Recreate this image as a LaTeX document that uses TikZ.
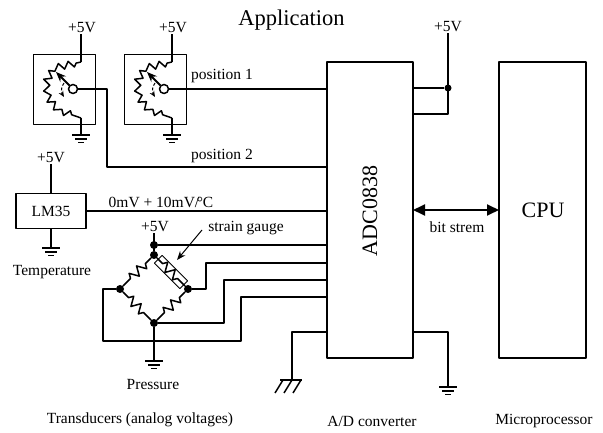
\documentclass[tikz,border=0pt]{standalone}
\usepackage{fontspec}
\setmainfont{Liberation Serif}
\usetikzlibrary{arrows.meta,decorations.pathmorphing,positioning}
\tikzset{sheet/.style={x=1pt,y=-1pt,line join=round,font=\fontsize{15.5}{18}\selectfont}}
\tikzset{wire/.style={black,line width=1.5pt},
         thinbox/.style={draw,line width=0.9pt,inner sep=0pt,outer sep=0pt},
         chip/.style={draw,line width=1.5pt,inner sep=0pt,outer sep=0pt},
         txt/.style={inner sep=1pt},
         bigtxt/.style={inner sep=1pt,font=\fontsize{22}{26}\selectfont},
         dot/.style={circle,fill=black,inner sep=0pt,minimum size=8pt},
         resist/.style={wire,decorate,decoration={zigzag,segment length=10.5pt,amplitude=4.6pt,pre length=8pt,post length=8pt}},
         gnd/.pic={\draw[line width=1.4pt] (-9,0) -- (9,0) (-6,4) -- (6,4) (-3,7.5) -- (3,7.5);}}

\begin{document}
\begin{tikzpicture}[sheet]
    \useasboundingbox (0,0) rectangle (603,433);
    \node[txt] (title) at (291.5,20) {\fontsize{22.5}{26}\selectfont Application};
    % the two position pots
    \foreach \dx/\nm in {0/a,91/b} {
      \begin{scope}[xshift=\dx pt]
        \node[thinbox,minimum width=62pt,minimum height=70pt] (pot\nm) at (64,89) {};
        \node[txt] (vcc\nm) at (82,28) {+5V};
        \coordinate (top\nm) at (81,62);
        \coordinate (bot\nm) at (81,118);
        \coordinate (gnd\nm) at (81,135);
        \node[draw,circle,line width=1.5pt,fill=white,minimum size=9pt,inner sep=0pt] (wip\nm) at (73,89) {};
        \draw[wire] (vcc\nm.south -| top\nm) -- (top\nm);
        \draw[wire] (bot\nm) -- (gnd\nm) pic {gnd};
        \draw[wire,decorate,decoration={zigzag,segment length=10pt,amplitude=3.4pt,pre length=5pt,post length=7pt}]
          (top\nm) -- (54,68) -- (46,82) -- (48,98) -- (58,110) -- (bot\nm);
        \draw[line width=1.8pt,-{Stealth[length=10pt,width=8pt]}] (wip\nm) -- (56,72);
        \draw[line width=1pt,densely dashed,-{Stealth[length=6pt,width=5pt]}] (64,83) .. controls (61,87) and (61,92) .. (64,97);
      \end{scope}
    }
    % chips
    \node[chip,minimum width=86pt,minimum height=296pt] (adc) at (370,210) {};
    \node[chip,minimum width=87pt,minimum height=296pt] (cpu) at (542.5,210) {};
    \node[bigtxt,rotate=90] (adclabel) at (370,211) {ADC0838};
    \node[bigtxt] (cpulabel) at (543,210) {CPU};
    \draw[wire,line width=1.8pt,{Triangle[length=12pt,width=11pt]}-{Triangle[length=12pt,width=11pt]}] (adc) -- (cpu);
    \node[txt] (bitlabel) at (457,227) {bit strem};
    % wires from the pots
    \coordinate (lnka) at (107,167);
    \draw[wire] (wipa) -- (lnka |- wipa) -- (lnka) -- (adc.west |- lnka);
    \draw[wire] (wipb) -- (adc.west |- wipb);
    \node[txt] (pos1) at (222,76) {position 1};
    \node[txt] (pos2) at (222,156) {position 2};
    % supply of the converter
    \node[txt] (vccadc) at (448,27) {+5V};
    \node[dot,minimum size=7pt] (jadc) at (448,88) {};
    \coordinate (refadc) at (448,114);
    \draw[wire] (vccadc.south) -- (refadc) -- (adc.east |- refadc);
    \draw[wire] (jadc) -- (adc.east |- jadc);
    % LM35
    \node[chip,minimum width=70pt,minimum height=35pt] (lm) at (51,211) {};
    \node[txt] (lmlabel) at (51,211) {LM35};
    \node[txt] (vcclm) at (51,158) {+5V};
    \coordinate (gndlm) at (51,248);
    \draw[wire] (vcclm.south) -- (lm.north);
    \draw[wire] (lm.south) -- (gndlm) pic {gnd};
    \draw[wire] (lm.east) -- (adc.west |- lm.east);
    \node[txt] (lmout) at (161,202) {0mV + 10mV/\kern-2.5pt°C};
    \node[txt] (templabel) at (52,272) {Temperature};
    % strain gauge bridge
    \node[txt] (vccbr) at (155,227) {+5V};
    \node[dot] (jbr) at (154,245) {};
    \node[dot] (brt) at (154,255) {};
    \node[dot] (brl) at (120,289) {};
    \node[dot] (brr) at (188,289) {};
    \node[dot] (brb) at (154,323) {};
    \coordinate (gndbr) at (154,361);
    \node[thinbox,rotate=-45,minimum width=36pt,minimum height=11pt] (gauge) at (171,272) {};
    \draw[resist] (brt) -- (brl);
    \draw[resist] (brt) -- (brr);
    \draw[resist] (brl) -- (brb);
    \draw[resist] (brr) -- (brb);
    \draw[wire] (vccbr.south -| brt) -- (brt);
    \draw[wire] (brb) -- (gndbr) pic {gnd};
    \draw[wire] (jbr) -- (adc.west |- jbr);
    \coordinate (sa) at (206,263);
    \coordinate (sb) at (224,280);
    \coordinate (sc) at (241,297);
    \coordinate (sd) at (103,341);
    \draw[wire] (brr) -- (sa |- brr) -- (sa) -- (adc.west |- sa);
    \draw[wire] (brb) -- (sb |- brb) -- (sb) -- (adc.west |- sb);
    \draw[wire] (brl) -- (sd |- brl) -- (sd) -- (sc |- sd) -- (sc) -- (adc.west |- sc);
    \node[txt] (gaugelabel) at (246,228) {strain gauge};
    \coordinate (gaugetail) at (202,230);
    \coordinate (gaugetip) at (177,260);
    \draw[line width=1pt,-{Stealth[length=9pt,width=7pt]}] (gaugetail) -- (gaugetip);
    \node[txt] (preslabel) at (153,384) {Pressure};
    % grounds of the converter
    \coordinate (agnd) at (292,332);
    \coordinate (agndb) at (292,380);
    \coordinate (dgnd) at (448,332);
    \coordinate (dgndb) at (448,387);
    \draw[wire] (adc.west |- agnd) -- (agnd) -- (agndb);
    \draw[wire] (280,380) -- (302,380);
    \foreach \x in {283,292,301} \draw[wire] (\x,380) -- ({\x-8},393);
    \draw[wire] (adc.east |- dgnd) -- (dgnd) -- (dgndb) pic {gnd};
    % captions
    \node[txt] (capt) at (140,420) {Transducers (analog voltages)};
    \node[txt] (capa) at (372,421) {A/D converter};
    \node[txt] (capm) at (544,421) {Microprocessor};
\end{tikzpicture}
\end{document}
